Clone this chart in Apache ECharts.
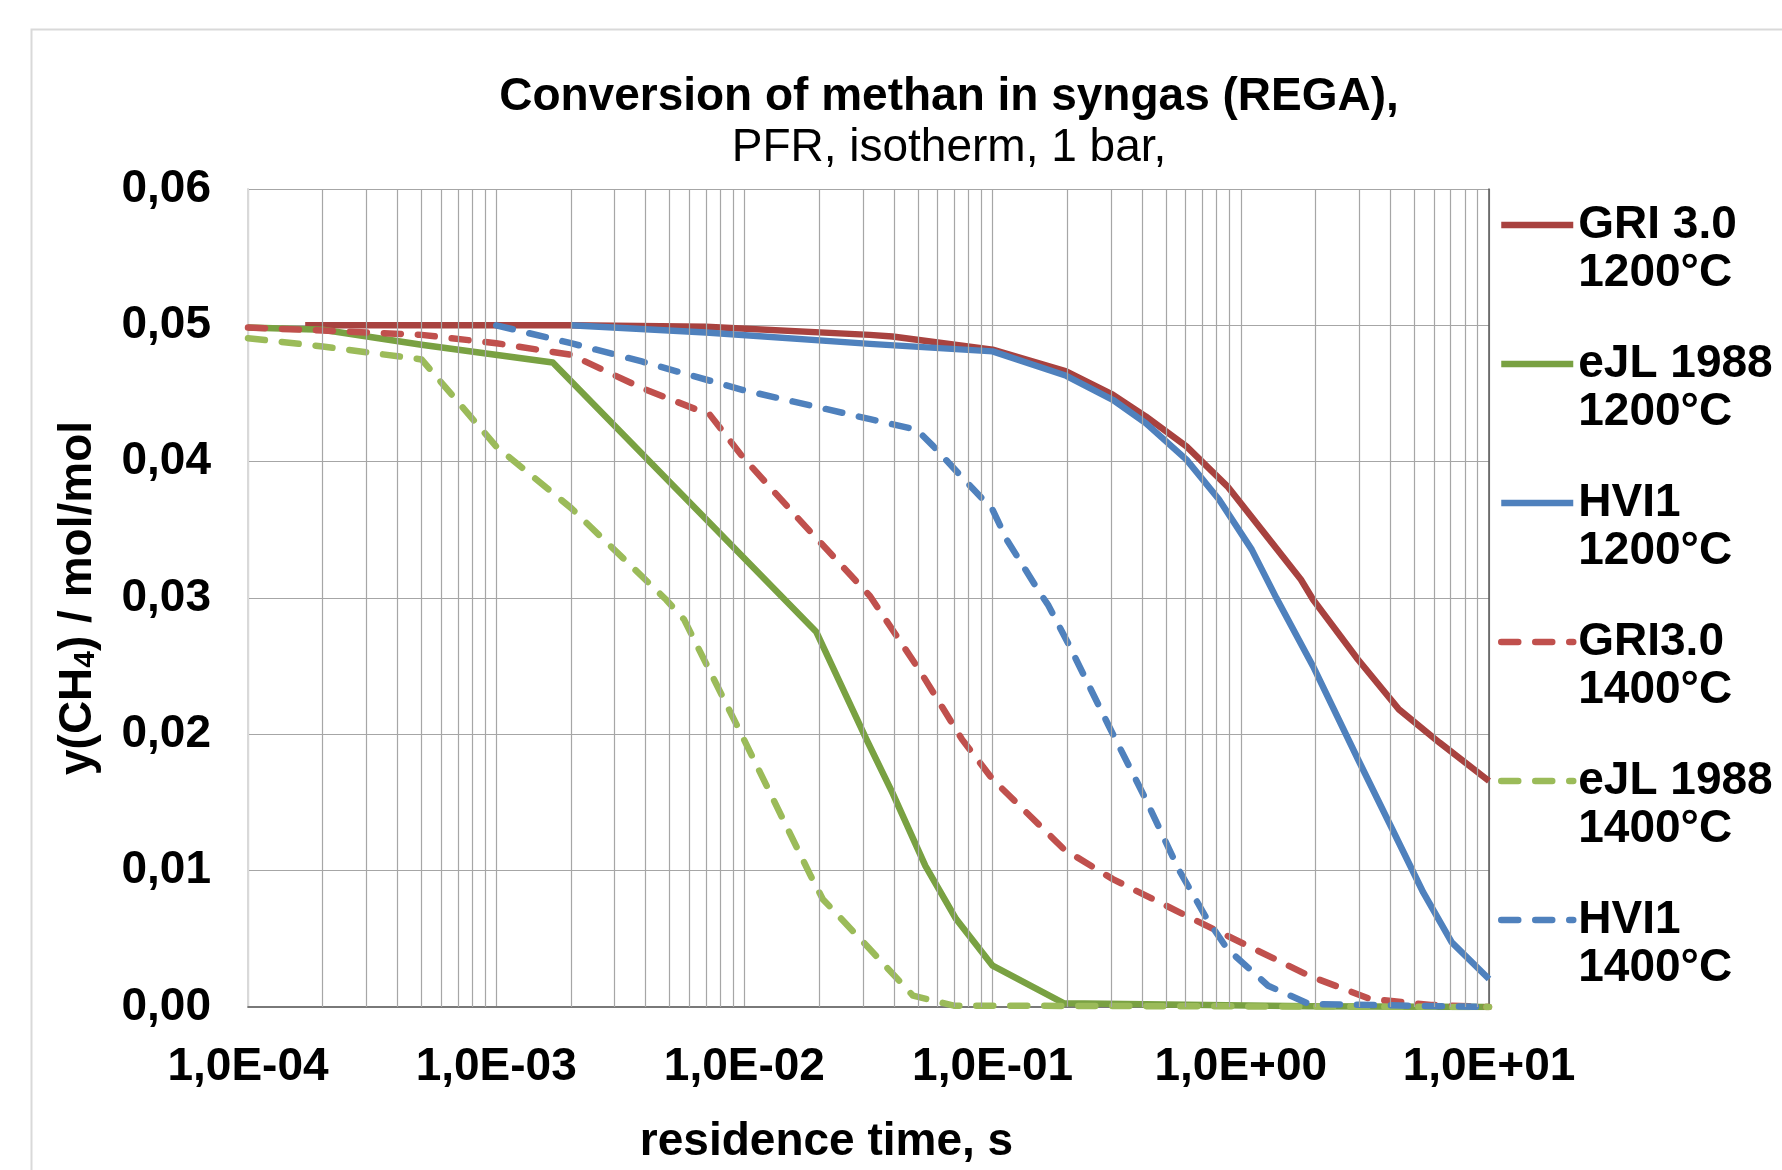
<!DOCTYPE html>
<html>
<head>
<meta charset="utf-8">
<title>Conversion of methan in syngas (REGA)</title>
<script src="https://cdn.jsdelivr.net/npm/echarts@6/dist/echarts.min.js"></script>
<style>
  html, body { margin: 0; padding: 0; background: #ffffff; }
  #chart { width: 1782px; height: 1170px; }
</style>
</head>
<body>
<div id="chart"></div>
<script>
// legend texts
var modelNames = ["GRI 3.0", "eJL 1988", "HVI1", "GRI3.0", "eJL 1988", "HVI1"];
var temps = ["1200°C", "1200°C", "1200°C", "1400°C", "1400°C", "1400°C"];

// residence time (s) / y(CH4)
var gri1200X = [1.7e-4, 2e-3, 7e-3, 3.2e-2, 3.95e-2, 0.1, 0.198, 0.305, 0.414, 0.604, 0.883, 1.288, 1.746, 1.954, 2.965, 4.335, 6.324, 10];
var gri1200Y = [0.0500, 0.0500, 0.0499, 0.0493, 0.04918, 0.04821, 0.04662, 0.04491, 0.04332, 0.04112, 0.03819, 0.03441, 0.03136, 0.02989, 0.02549, 0.02183, 0.01939, 0.01658];

var ejl1200X = [1e-4, 2e-4, 5e-4, 1.69e-3, 1.95e-2, 3.11e-2, 3.95e-2, 5.36e-2, 7.13e-2, 0.1, 0.194, 1.884, 10];
var ejl1200Y = [0.04984, 0.04967, 0.04857, 0.04728, 0.0275, 0.0196, 0.0157, 0.01035, 0.00645, 0.00303, 0.00027, 0.00005, 0];

var hvi1200X = [2e-3, 7e-3, 3.2e-2, 0.1, 0.198, 0.305, 0.414, 0.604, 0.817, 1.107, 1.39, 1.954, 2.965, 4.018, 5.433, 7.079, 10];
var hvi1200Y = [0.0500, 0.04948, 0.04864, 0.04809, 0.0463, 0.04454, 0.04283, 0.04015, 0.03722, 0.03355, 0.03001, 0.025, 0.01817, 0.01328, 0.0084, 0.00474, 0.00205];

var gri1400X = [1e-4, 2e-4, 5e-4, 1e-3, 2e-3, 3.86e-3, 7.26e-3, 9.8e-3, 1.71e-2, 3.21e-2, 5.15e-2, 7.53e-2, 0.1, 0.194, 0.305, 0.604, 0.883, 1.884, 3.319, 5.834, 10];
var gri1400Y = [0.04984, 0.04962, 0.0493, 0.04869, 0.04784, 0.0454, 0.04344, 0.04039, 0.03551, 0.03013, 0.02452, 0.01963, 0.0167, 0.01157, 0.00938, 0.00669, 0.00522, 0.00229, 0.00059, 0.00015, 0];

var ejl1400X = [1e-4, 2e-4, 5e-4, 1e-3, 2e-3, 4.83e-3, 5.71e-3, 9.8e-3, 1.85e-2, 2.07e-2, 3.11e-2, 4.78e-2, 6.98e-2, 10];
var ejl1400Y = [0.04906, 0.04845, 0.0475, 0.04112, 0.03661, 0.02989, 0.02843, 0.01988, 0.00962, 0.00791, 0.00449, 0.00083, 0.0001, 0];

var hvi1400X = [1e-3, 2e-3, 3.86e-3, 9.8e-3, 3.21e-2, 4.95e-2, 5.78e-2, 7.26e-2, 0.1, 0.114, 0.155, 0.167, 0.201, 0.294, 0.414, 0.561, 0.731, 0.883, 1.288, 1.884, 10];
var hvi1400Y = [0.0500, 0.04869, 0.04735, 0.04527, 0.04312, 0.04234, 0.04112, 0.03917, 0.03648, 0.03428, 0.03038, 0.02952, 0.02672, 0.02061, 0.01524, 0.01011, 0.00645, 0.00425, 0.00156, 0.00022, 0];

// decades of the x axis, minor grid lines at 2..9 of each
var decades = [1e-4, 1e-3, 1e-2, 1e-1, 1];

function zip(xs, ys) {
  var out = [];
  for (var i = 0; i < xs.length; i++) out.push([xs[i], ys[i]]);
  return out;
}

function sci(v) {
  var p = v.toExponential(1).split('e');
  var e = parseInt(p[1], 10);
  var a = Math.abs(e);
  return p[0].replace('.', ',') + 'E' + (e < 0 ? '-' : '+') + (a < 10 ? '0' : '') + a;
}

var minorX = [];
decades.forEach(function (d) {
  for (var m = 2; m <= 9; m++) minorX.push({ xAxis: m * d });
});

var font = 'Liberation Sans, Arial, sans-serif';
var gridColor = '#a6a6a6';
var dash = [17, 17];
var lineW = 6.5;

function lineSeries(name, data, color, dashed) {
  return {
    name: name,
    type: 'line',
    data: data,
    symbol: 'none',
    z: 3,
    lineStyle: {
      color: color,
      width: lineW,
      type: dashed ? dash : 'solid',
      cap: dashed ? 'round' : 'butt',
      join: 'round'
    },
    itemStyle: { color: color },
    animation: false
  };
}

var chart = echarts.init(document.getElementById('chart'));

var names = modelNames.map(function (m, i) { return m + ' ' + temps[i]; });

var option = {
  backgroundColor: '#ffffff',
  title: [{
    text: 'Conversion of methan in syngas (REGA),',
    left: 944,
    top: 69,
    textAlign: 'center',
    textStyle: { fontFamily: font, fontSize: 46, fontWeight: 'bold', color: '#000', lineHeight: 46 }
  }, {
    text: 'PFR, isotherm, 1 bar,',
    left: 944,
    top: 120,
    textAlign: 'center',
    textStyle: { fontFamily: font, fontSize: 46, fontWeight: 'normal', color: '#000', lineHeight: 46 }
  }],
  graphic: [{
    type: 'rect',
    left: 29,
    top: 27,
    shape: { width: 1800, height: 1200 },
    style: { fill: 'none', stroke: '#d9d9d9', lineWidth: 2 },
    silent: true,
    z: -10
  }],
  legend: {
    data: names,
    orient: 'vertical',
    left: 1493,
    top: 148,
    itemWidth: 72,
    itemHeight: 2,
    itemGap: -5,
    selectedMode: false,
    itemStyle: { opacity: 0 },
    lineStyle: { width: lineW },
    // empty first line so the sample line sits beside the model name
    formatter: function (name) {
      var i = names.indexOf(name);
      return '\n' + modelNames[i] + '\n' + temps[i];
    },
    textStyle: {
      fontFamily: font, fontSize: 46, fontWeight: 'bold', color: '#000',
      lineHeight: 48
    }
  },
  grid: {
    left: 248,
    right: 293,
    top: 189,
    bottom: 162
  },
  xAxis: [{
    type: 'log',
    logBase: 10,
    min: 1e-4,
    max: 10,
    splitNumber: 5,
    name: 'residence time, s',
    nameLocation: 'middle',
    nameGap: 112,
    nameTextStyle: {
      fontFamily: font, fontSize: 46, fontWeight: 'bold', color: '#000',
      padding: [0, 84, 0, 0]
    },
    axisLine: { show: true, lineStyle: { color: '#d9d9d9', width: 2 } },
    axisTick: { show: false },
    axisLabel: {
      formatter: sci,
      margin: 37,
      fontFamily: font, fontSize: 46, fontWeight: 'bold', color: '#000'
    },
    splitLine: { show: true, lineStyle: { color: gridColor, width: 1.2 } }
  }, {
    type: 'log',
    logBase: 10,
    min: 1e-4,
    max: 10,
    position: 'top',
    axisLine: { show: true, lineStyle: { color: '#595959', width: 1.5 } },
    axisTick: { show: false },
    axisLabel: { show: false },
    splitLine: { show: false }
  }],
  yAxis: [{
    type: 'value',
    min: 0,
    max: 0.06,
    interval: 0.01,
    name: 'y(CH{sub|4}) / mol/mol',
    nameLocation: 'middle',
    nameGap: 147,
    nameRotate: 90,
    nameTextStyle: {
      fontFamily: font, fontSize: 46, fontWeight: 'bold', color: '#000', lineHeight: 46,
      rich: {
        sub: { fontFamily: font, fontSize: 30, fontWeight: 'bold', color: '#000', lineHeight: 20, verticalAlign: 'bottom' }
      }
    },
    axisLine: { show: true, lineStyle: { color: '#d9d9d9', width: 2 } },
    axisTick: { show: false },
    axisLabel: {
      formatter: function (v) { return v.toFixed(2).replace('.', ','); },
      margin: 37,
      fontFamily: font, fontSize: 46, fontWeight: 'bold', color: '#000'
    },
    splitLine: { show: true, lineStyle: { color: gridColor, width: 1.2 } }
  }, {
    type: 'value',
    min: 0,
    max: 0.06,
    interval: 0.01,
    position: 'right',
    axisLine: { show: true, lineStyle: { color: '#595959', width: 1.5 } },
    axisTick: { show: false },
    axisLabel: { show: false },
    splitLine: { show: false }
  }],
  series: [
    {
      name: 'minor grid',
      type: 'line',
      data: [],
      z: 1,
      silent: true,
      animation: false,
      markLine: {
        silent: true,
        symbol: 'none',
        precision: 8,
        animation: false,
        label: { show: false },
        lineStyle: { color: gridColor, width: 1.2, type: 'solid' },
        data: minorX
      }
    },
    lineSeries(names[0], zip(gri1200X, gri1200Y), '#a8423f', false),
    lineSeries(names[1], zip(ejl1200X, ejl1200Y), '#79a142', false),
    lineSeries(names[2], zip(hvi1200X, hvi1200Y), '#4f81bd', false),
    lineSeries(names[3], zip(gri1400X, gri1400Y), '#c0504d', true),
    lineSeries(names[4], zip(ejl1400X, ejl1400Y), '#9bbb59', true),
    lineSeries(names[5], zip(hvi1400X, hvi1400Y), '#4f81bd', true)
  ]
};

chart.setOption(option);
</script>
</body>
</html>
